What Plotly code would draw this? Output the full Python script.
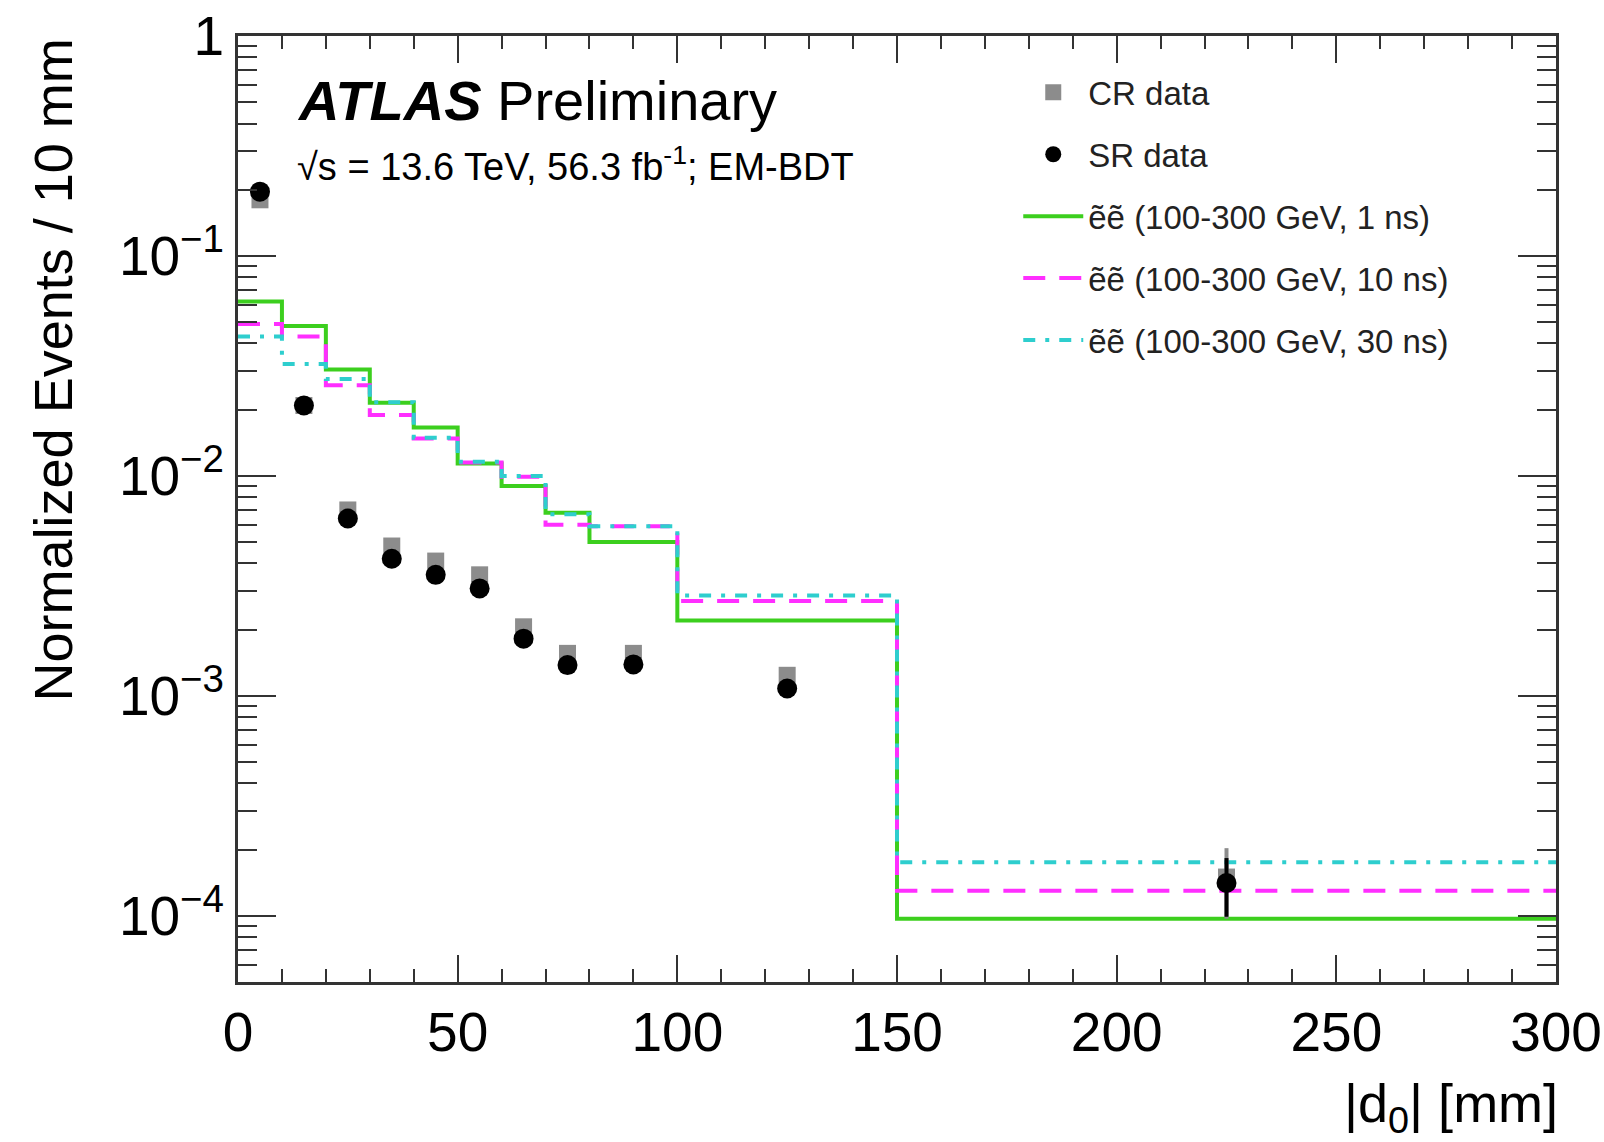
import plotly.graph_objects as go

# ---- data ----
bin_edges = [0, 10, 20, 30, 40, 50, 60, 70, 80, 100, 150, 300]
sig_1ns = [0.062, 0.048, 0.0305, 0.0215, 0.0166, 0.0114, 0.0090, 0.0068, 0.0050, 0.0022, 9.7e-5]
sig_10ns = [0.049, 0.043, 0.0258, 0.0189, 0.0148, 0.0115, 0.0099, 0.0060, 0.0059, 0.0027, 1.3e-4]
sig_30ns = [0.043, 0.0323, 0.0276, 0.0216, 0.0149, 0.0116, 0.0100, 0.0067, 0.0059, 0.00286, 1.75e-4]

data_x = [5, 15, 25, 35, 45, 55, 65, 75, 90, 125, 225]
sr_vals = [0.196, 0.0209, 0.0064, 0.0042, 0.00355, 0.00308, 0.00182, 0.00138, 0.00139, 0.00108, 1.41e-4]
sr_errs = [0.003, 0.0007, 0.0003, 0.0002, 0.00018, 0.00016, 0.00012, 0.0001, 0.0001, 0.00008, 4.2e-5]
cr_vals = [0.180, 0.0209, 0.0070, 0.0048, 0.0041, 0.00355, 0.00206, 0.00156, 0.00156, 0.00124, 1.5e-4]
cr_errs = [0.003, 0.0007, 0.0003, 0.0002, 0.00018, 0.00016, 0.00012, 0.0001, 0.0001, 0.00008, 5.3e-5]

y_major = [1e-4, 1e-3, 1e-2, 1e-1, 1]
y_major_text = ["10<sup>\u22124</sup>", "10<sup>\u22123</sup>", "10<sup>\u22122</sup>", "10<sup>\u22121</sup>", "1"]
y_minor = [m * 10.0 ** e for e in range(-5, 0) for m in range(2, 10) if m * 10.0 ** e >= 5e-5]

FONT = "Liberation Sans, Arial, Helvetica, sans-serif"
GREEN = "#3ccf1e"
MAGENTA = "#ff2eff"
CYAN = "#2ecece"
AXC = "#333333"

def step(vals):
    return list(vals) + [vals[-1]]

fig = go.Figure()

fig.add_trace(go.Scatter(
    x=bin_edges, y=step(sig_1ns), mode="lines", line_shape="hv",
    line=dict(color=GREEN, width=4), name="\u1ebd\u1ebd (100-300 GeV, 1 ns)",
    legendgroup="g3", legendrank=3))
fig.add_trace(go.Scatter(
    x=bin_edges, y=step(sig_10ns), mode="lines", line_shape="hv",
    line=dict(color=MAGENTA, width=4, dash="22px,14px"), name="\u1ebd\u1ebd (100-300 GeV, 10 ns)",
    legendgroup="g4", legendrank=4))
fig.add_trace(go.Scatter(
    x=bin_edges, y=step(sig_30ns), mode="lines", line_shape="hv",
    line=dict(color=CYAN, width=4, dash="12px,10px,4px,10px"), name="\u1ebd\u1ebd (100-300 GeV, 30 ns)",
    legendgroup="g5", legendrank=5))

fig.add_trace(go.Scatter(
    x=data_x, y=cr_vals, mode="markers", name="CR data",
    marker=dict(symbol="square", size=17, color="#8c8c8c"),
    error_y=dict(type="data", array=cr_errs, color="#8c8c8c", thickness=4, width=0),
    legendgroup="g1", legendrank=1))
fig.add_trace(go.Scatter(
    x=data_x, y=sr_vals, mode="markers", name="SR data",
    marker=dict(symbol="circle", size=20, color="black"),
    error_y=dict(type="data", array=sr_errs, color="black", thickness=4, width=0),
    legendgroup="g2", legendrank=2))

fig.update_xaxes(
    range=[0, 300], tickvals=[0, 50, 100, 150, 200, 250, 300],
    ticks="inside", ticklen=27, tickwidth=2, tickcolor=AXC,
    minor=dict(tickvals=list(range(10, 300, 10)), ticks="inside", ticklen=13, tickwidth=2, tickcolor=AXC),
    showline=True, linewidth=3, linecolor=AXC, mirror="allticks",
    showgrid=False, zeroline=False, automargin=False,
    tickfont=dict(family=FONT, size=55, color="black"))
fig.update_yaxes(
    type="log", range=[-4.301, 0],
    tickvals=y_major, ticktext=y_major_text,
    ticks="inside", ticklen=38, tickwidth=2, tickcolor=AXC,
    minor=dict(tickvals=y_minor, ticks="inside", ticklen=19, tickwidth=2, tickcolor=AXC),
    showline=True, linewidth=3, linecolor=AXC, mirror="allticks",
    showgrid=False, zeroline=False, automargin=False,
    tickfont=dict(family=FONT, size=55, color="black"))

fig.add_annotation(text="<b><i>ATLAS</i></b> Preliminary", xref="paper", yref="paper",
                   x=0.0432, y=0.932, xanchor="left", yanchor="middle", showarrow=False,
                   font=dict(family=FONT, size=56, color="black"))
fig.add_annotation(text="\u221as = 13.6 TeV, 56.3 fb<sup>-1</sup>; EM-BDT", xref="paper", yref="paper",
                   x=0.0432, y=0.865, xanchor="left", yanchor="middle", showarrow=False,
                   font=dict(family=FONT, size=38, color="black"))
fig.add_annotation(text="|d<sub>0</sub>| [mm]", xref="paper", yref="paper",
                   x=1.003, y=-0.132, xanchor="right", yanchor="middle", showarrow=False,
                   font=dict(family=FONT, size=54, color="black"))
fig.add_annotation(text="Normalized Events / 10 mm", xref="paper", yref="paper",
                   x=-0.1404, y=1.0, xanchor="center", yanchor="top", textangle=-90, showarrow=False,
                   font=dict(family=FONT, size=54, color="black"))

fig.update_layout(
    width=1604, height=1142,
    margin=dict(l=238, r=48, t=36, b=160, autoexpand=False),
    paper_bgcolor="white", plot_bgcolor="white",
    font=dict(family=FONT, color="black"),
    legend=dict(x=0.592, y=0.970, xanchor="left", yanchor="top",
                bgcolor="rgba(0,0,0,0)", font=dict(family=FONT, size=33, color="#222"),
                tracegroupgap=16, itemwidth=60),
)

fig.write_html("out.html")
